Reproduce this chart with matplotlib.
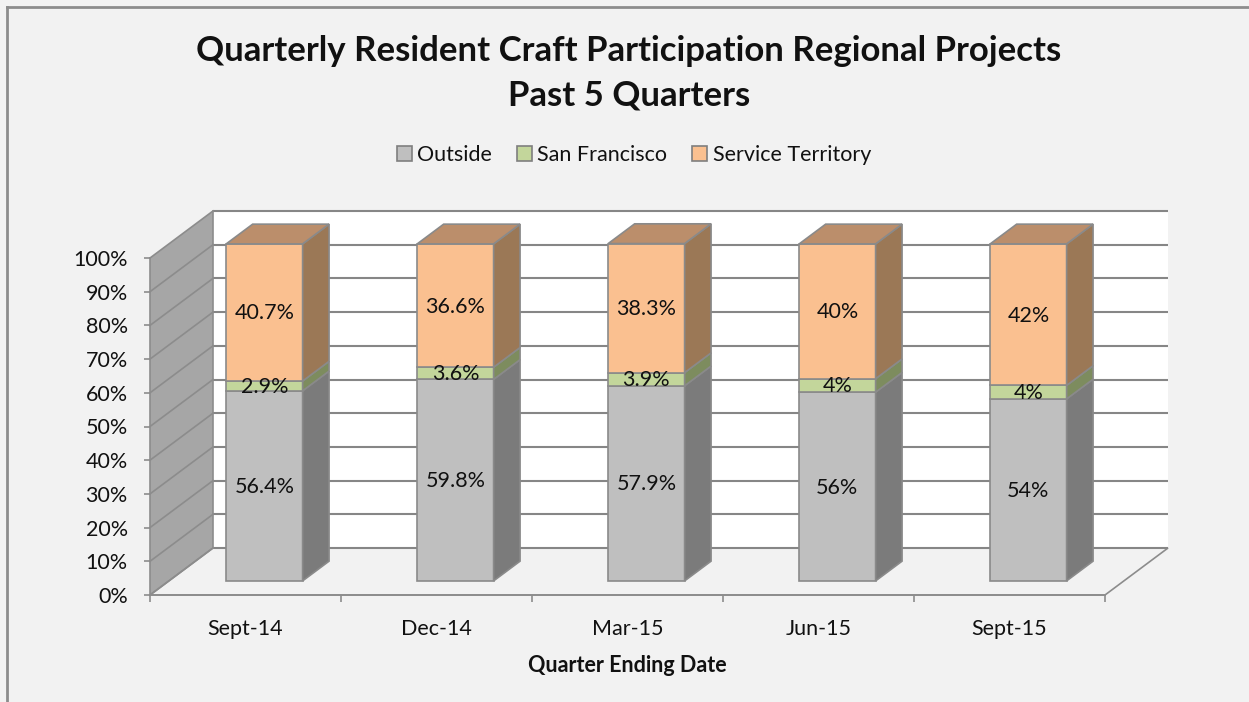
import matplotlib
matplotlib.use("Agg")
import matplotlib.pyplot as plt
from matplotlib.patches import Polygon, Rectangle, Patch

plt.rcParams['font.family'] = ['Lato', 'DejaVu Sans']

categories = ["Sept-14", "Dec-14", "Mar-15", "Jun-15", "Sept-15"]
outside = [56.4, 59.8, 57.9, 56, 54]
san_francisco = [2.9, 3.6, 3.9, 4, 4]
service_territory = [40.7, 36.6, 38.3, 40, 42]
labels_outside = ["56.4%", "59.8%", "57.9%", "56%", "54%"]
labels_sf = ["2.9%", "3.6%", "3.9%", "4%", "4%"]
labels_st = ["40.7%", "36.6%", "38.3%", "40%", "42%"]
series_names = ["Outside", "San Francisco", "Service Territory"]
yticks = list(range(0, 101, 10))

front_cols = ["#bfbfbf", "#c3d69b", "#fac090"]
side_cols = ["#7b7b7b", "#7d8c5e", "#9b7856"]
top_cols = ["#8f8f8f", "#96a872", "#bb8e6b"]
edge = "#8a8a8a"

W, H = 1249, 702
fig = plt.figure(figsize=(W / 100, H / 100), dpi=100)
fig.patch.set_facecolor("#f2f2f2")

# border (left/top visible)
fig.add_artist(plt.Line2D([7 / W, 7 / W], [0, 1 - 7 / H], transform=fig.transFigure, color="#8c8c8c", lw=2))
fig.add_artist(plt.Line2D([7 / W, 1], [1 - 7 / H, 1 - 7 / H], transform=fig.transFigure, color="#8c8c8c", lw=2))

ax = fig.add_axes([150 / W, (H - 595) / H, 955 / W, 337 / H])
ax.set_xlim(0, 5)
ax.set_ylim(0, 100)
ax.set_facecolor("none")

DX = 63 / 191.0
DY = 47 / 3.37
d0, d1 = 0.30, 0.72
bw = 0.40

# side wall
ax.add_patch(Polygon([(0, 0), (DX, DY), (DX, 100 + DY), (0, 100)], closed=True,
                     facecolor="#a6a6a6", edgecolor="none", clip_on=False, zorder=1))
# back wall
ax.add_patch(Rectangle((DX, DY), 5, 100, facecolor="white", edgecolor="none", clip_on=False, zorder=1))
# floor
ax.add_patch(Polygon([(0, 0), (5, 0), (5 + DX, DY), (DX, DY)], closed=True,
                     facecolor="#f2f2f2", edgecolor="#8c8c8c", lw=1.2, clip_on=False, zorder=1))
for t in yticks:
    ax.plot([DX, 5 + DX], [t + DY, t + DY], color="#868686", lw=1.5, clip_on=False, zorder=2, solid_capstyle="butt")
    ax.plot([0, DX], [t, t + DY], color="#8c8c8c", lw=1.2, clip_on=False, zorder=2)
ax.plot([DX, DX], [DY, 100 + DY], color="#8c8c8c", lw=1.2, clip_on=False, zorder=2)

# bars
series = [outside, san_francisco, service_territory]
labels = [labels_outside, labels_sf, labels_st]
for i in range(len(categories)):
    xl = i + 0.5 - bw / 2
    xr = i + 0.5 + bw / 2
    base = 0.0
    for s in range(3):
        h = series[s][i]
        y0, y1 = base, base + h
        ax.add_patch(Rectangle((xl + d0 * DX, y0 + d0 * DY), bw, h, facecolor=front_cols[s],
                               edgecolor=edge, lw=1.2, clip_on=False, zorder=5))
        ax.add_patch(Polygon([(xr + d0 * DX, y0 + d0 * DY), (xr + d1 * DX, y0 + d1 * DY),
                              (xr + d1 * DX, y1 + d1 * DY), (xr + d0 * DX, y1 + d0 * DY)], closed=True,
                             facecolor=side_cols[s], edgecolor=edge, lw=1.2, clip_on=False, zorder=5))
        if s == 2:
            ax.add_patch(Polygon([(xl + d0 * DX, y1 + d0 * DY), (xr + d0 * DX, y1 + d0 * DY),
                                  (xr + d1 * DX, y1 + d1 * DY), (xl + d1 * DX, y1 + d1 * DY)], closed=True,
                                 facecolor=top_cols[s], edgecolor=edge, lw=1.2, clip_on=False, zorder=5))
        ax.text(i + 0.5 + d0 * DX, (y0 + y1) / 2 + d0 * DY - 0.3, labels[s][i], ha="center", va="center",
                fontsize=15.5, color="#111111", zorder=6)
        base = y1

# axes styling
for sp in ["top", "right"]:
    ax.spines[sp].set_visible(False)
ax.spines["left"].set_color("#8c8c8c")
ax.spines["bottom"].set_color("#8c8c8c")
ax.spines["left"].set_linewidth(1.2)
ax.spines["bottom"].set_linewidth(1.2)
ax.spines["left"].set_zorder(3)
ax.spines["bottom"].set_zorder(3)
ax.set_yticks(yticks)
ax.set_yticklabels([f"{t}%" for t in yticks])
ax.tick_params(axis="y", length=4, width=1.2, color="#8c8c8c", pad=12, labelsize=15.5, labelcolor="#111111")
ax.set_xticks([i + 0.5 for i in range(len(categories))])
ax.set_xticklabels(categories)
ax.set_xticks(range(0, 6), minor=True)
ax.tick_params(axis="x", which="major", length=0, pad=17, labelsize=15.5, labelcolor="#111111")
ax.tick_params(axis="x", which="minor", length=5, width=1.2, color="#8c8c8c")
ax.set_xlabel("Quarter Ending Date", fontsize=15.5, fontweight="bold", labelpad=12, color="#111111")

fig.text(629 / W, 1 - 51 / H, "Quarterly Resident Craft Participation Regional Projects",
         ha="center", va="center", fontsize=25, fontweight="bold", color="#111111")
fig.text(629 / W, 1 - 96 / H, "Past 5 Quarters", ha="center", va="center",
         fontsize=25, fontweight="bold", color="#111111")

handles = [Patch(facecolor=c, edgecolor="#7f7f7f", lw=1.2) for c in front_cols]
fig.legend(handles, series_names, loc="center", bbox_to_anchor=(634 / W, 1 - 155 / H), ncol=3,
           frameon=False, fontsize=15.5, handlelength=0.7, handleheight=0.7, handletextpad=0.25,
           columnspacing=1.15, labelcolor="#111111")

fig.savefig("out.png", dpi=100, facecolor=fig.get_facecolor())
